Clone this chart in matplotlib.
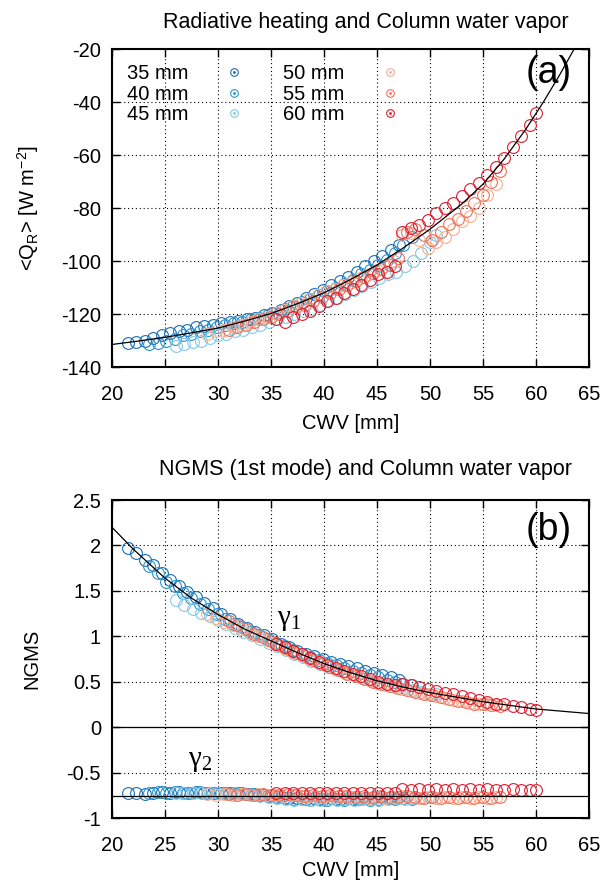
import matplotlib
matplotlib.use("Agg")
import matplotlib.pyplot as plt
from matplotlib.lines import Line2D
from matplotlib.legend_handler import HandlerTuple
from matplotlib.ticker import FuncFormatter

plt.rcParams['font.family'] = ['Liberation Sans', 'DejaVu Sans']
plt.rcParams['font.size'] = 14
plt.rcParams['axes.unicode_minus'] = False
plt.rcParams['mathtext.default'] = 'regular'

# --- data ---
labels = ["35 mm", "40 mm", "45 mm", "50 mm", "55 mm", "60 mm"]
colors = ["#1a6fb5", "#2b96cc", "#86c8e4", "#fbad90", "#f2715a", "#de1d2e"]

cwv_35 = [21.5, 22.3, 23.1, 23.9, 24.7, 25.5, 26.3, 27.1, 27.9, 28.7, 29.5, 30.3, 31.1, 31.9, 32.7, 33.5, 34.3,
          35.1, 35.9, 36.7, 37.5, 38.3, 39.1, 39.9, 40.7, 41.5, 42.3, 43.1, 43.9, 44.7, 45.5, 46.3, 47.1]
qr_35 = [-131, -130.5, -130, -129, -128, -127, -126.5, -126, -125, -124.5, -124, -123.5, -123, -122.5, -122, -121.5,
         -120.5, -119.5, -118.5, -117, -116, -114, -112.5, -111, -109, -107.5, -106, -104, -102, -100, -98, -96, -94]
g1_35 = [1.97, 1.92, 1.84, 1.78, 1.70, 1.62, 1.55, 1.49, 1.43, 1.37, 1.31, 1.25, 1.19, 1.14, 1.09, 1.05, 1.01,
         0.97, 0.92, 0.88, 0.84, 0.81, 0.78, 0.75, 0.72, 0.70, 0.67, 0.65, 0.62, 0.60, 0.57, 0.55, 0.52]
g2_35 = [-0.73, -0.72, -0.74, -0.72, -0.71, -0.72, -0.71, -0.72, -0.71, -0.72, -0.72, -0.73, -0.72, -0.73, -0.74,
         -0.74, -0.75, -0.76, -0.77, -0.78, -0.78, -0.79, -0.78, -0.79, -0.78, -0.79, -0.78, -0.79, -0.78, -0.78,
         -0.77, -0.78, -0.77]

cwv_40 = [23.5, 24.3, 25.1, 25.9, 26.7, 27.5, 28.3, 29.1, 29.9, 30.7, 31.5, 32.3, 33.1, 33.9, 34.7, 35.5, 36.3,
          37.1, 37.9, 38.7, 39.5, 40.3, 41.1, 41.9, 42.7, 43.5, 44.3, 45.1, 45.9, 46.7, 47.5, 48.3]
qr_40 = [-131.5, -131, -130, -129.5, -128, -127.5, -126.5, -126, -125, -124, -123.5, -123, -122, -121.5, -120.5,
         -119.5, -118, -117, -115.5, -114.5, -113, -111.5, -110, -108.5, -107, -105, -103.5, -101.5, -99.5, -97,
         -94, -91]
g1_40 = [1.77, 1.70, 1.60, 1.55, 1.48, 1.42, 1.36, 1.30, 1.25, 1.19, 1.14, 1.10, 1.05, 1.01, 0.97, 0.93, 0.89,
         0.85, 0.81, 0.77, 0.74, 0.71, 0.68, 0.65, 0.62, 0.60, 0.57, 0.55, 0.52, 0.50, 0.48, 0.46]
g2_40 = [-0.72, -0.71, -0.72, -0.71, -0.72, -0.72, -0.71, -0.72, -0.73, -0.72, -0.73, -0.73, -0.74, -0.75, -0.76,
         -0.77, -0.78, -0.79, -0.79, -0.80, -0.79, -0.80, -0.79, -0.80, -0.79, -0.79, -0.80, -0.79, -0.78, -0.79,
         -0.78, -0.79]

cwv_45 = [26.0, 26.8, 27.6, 28.4, 29.2, 30.0, 30.8, 31.6, 32.4, 33.2, 34.0, 34.8, 35.6, 36.4, 37.2, 38.0, 38.8,
          39.6, 40.4, 41.2, 42.0, 42.8, 43.6, 44.4, 45.2, 46.0, 46.8, 47.6, 48.4, 49.2, 50.0, 50.6]
qr_45 = [-132, -131.5, -130.5, -130, -129, -128, -127.5, -126.5, -126, -125, -124, -123, -122, -121, -120, -119,
         -118, -116.5, -115, -114, -112.5, -111, -109.5, -108, -106.5, -105, -104, -102, -100, -97, -93, -90]
g1_45 = [1.40, 1.35, 1.30, 1.26, 1.22, 1.18, 1.13, 1.09, 1.05, 1.01, 0.97, 0.93, 0.89, 0.85, 0.81, 0.77, 0.73,
         0.69, 0.66, 0.63, 0.60, 0.57, 0.54, 0.51, 0.49, 0.47, 0.45, 0.43, 0.41, 0.39, 0.37, 0.36]
g2_45 = [-0.73, -0.72, -0.73, -0.72, -0.73, -0.73, -0.74, -0.73, -0.74, -0.75, -0.76, -0.77, -0.78, -0.79, -0.80,
         -0.79, -0.80, -0.80, -0.79, -0.80, -0.79, -0.80, -0.79, -0.79, -0.80, -0.79, -0.78, -0.79, -0.78, -0.78,
         -0.77, -0.78]

cwv_50 = [29.0, 29.8, 30.6, 31.4, 32.2, 33.0, 33.8, 34.6, 35.4, 36.2, 37.0, 37.8, 38.6, 39.4, 40.2, 41.0, 41.8,
          42.6, 43.4, 44.2, 45.0, 45.8, 46.6, 47.4, 48.2, 49.0, 49.8, 50.6, 51.4, 52.2, 53.0, 53.8, 54.6, 55.4, 56.2]
qr_50 = [-127.5, -126.5, -126, -125, -124, -123, -122, -121, -119.5, -118.5, -117, -116, -114.5, -113, -111.5,
         -110.5, -109, -108, -106.5, -105, -103.5, -102, -100, -90, -89.5, -92, -95, -93, -91, -88, -85, -83, -80,
         -75, -71]
g1_50 = [1.25, 1.20, 1.16, 1.12, 1.08, 1.04, 1.00, 0.96, 0.92, 0.87, 0.83, 0.79, 0.75, 0.72, 0.68, 0.64, 0.61,
         0.58, 0.55, 0.52, 0.49, 0.46, 0.44, 0.42, 0.40, 0.38, 0.36, 0.34, 0.32, 0.30, 0.29, 0.27, 0.26, 0.25, 0.24]
g2_50 = [-0.74, -0.75, -0.74, -0.75, -0.74, -0.75, -0.74, -0.75, -0.75, -0.76, -0.75, -0.76, -0.76, -0.77, -0.76,
         -0.77, -0.76, -0.77, -0.77, -0.78, -0.77, -0.78, -0.77, -0.76, -0.77, -0.78, -0.77, -0.78, -0.77, -0.78,
         -0.77, -0.78, -0.77, -0.78, -0.77]

cwv_55 = [31.0, 31.8, 32.6, 33.4, 34.2, 35.0, 35.8, 36.6, 37.4, 38.2, 39.0, 39.8, 40.6, 41.4, 42.2, 43.0, 43.8,
          44.6, 45.4, 46.2, 47.0, 47.8, 48.6, 49.4, 50.2, 51.0, 51.8, 52.6, 53.4, 54.2, 55.0, 55.8, 56.6]
qr_55 = [-126, -125, -124, -123, -122, -121, -120, -119, -117.5, -116.5, -115, -113.5, -112, -110.5, -109, -107.5,
         -106, -104.5, -103, -101.5, -99, -89, -88, -90, -92, -89, -86, -84, -81, -78, -75, -70, -66]
g1_55 = [1.17, 1.12, 1.08, 1.03, 0.99, 0.95, 0.90, 0.86, 0.82, 0.78, 0.74, 0.70, 0.66, 0.63, 0.59, 0.56, 0.53,
         0.50, 0.47, 0.45, 0.43, 0.41, 0.39, 0.37, 0.35, 0.33, 0.31, 0.29, 0.28, 0.26, 0.25, 0.24, 0.23]
g2_55 = [-0.74, -0.75, -0.74, -0.75, -0.74, -0.75, -0.75, -0.74, -0.75, -0.76, -0.75, -0.76, -0.75, -0.76, -0.76,
         -0.77, -0.76, -0.77, -0.76, -0.77, -0.77, -0.76, -0.77, -0.78, -0.77, -0.78, -0.77, -0.78, -0.77, -0.78,
         -0.77, -0.78, -0.77]

cwv_60 = [35.5, 36.3, 37.1, 37.9, 38.7, 39.5, 40.3, 41.1, 41.9, 42.7, 43.5, 44.3, 45.1, 45.9, 46.7, 47.4, 48.2,
          49.0, 49.8, 50.6, 51.4, 52.2, 53.0, 53.8, 54.6, 55.4, 56.2, 57.0, 57.8, 58.6, 59.4, 60.0]
qr_60 = [-122, -123, -121, -120, -119, -117, -115, -114, -112, -110.5, -109, -107, -105, -104, -102, -89, -87.5,
         -86.5, -84.5, -82, -80, -78, -75.5, -73, -70.5, -67.5, -64.5, -61, -57, -53, -48.5, -44]
g1_60 = [0.91, 0.88, 0.84, 0.80, 0.76, 0.72, 0.68, 0.65, 0.62, 0.59, 0.56, 0.53, 0.50, 0.48, 0.46, 0.48, 0.46,
         0.44, 0.42, 0.40, 0.38, 0.36, 0.34, 0.32, 0.30, 0.28, 0.26, 0.25, 0.23, 0.22, 0.20, 0.19]
g2_60 = [-0.73, -0.72, -0.73, -0.72, -0.73, -0.72, -0.73, -0.72, -0.73, -0.72, -0.73, -0.72, -0.73, -0.72, -0.73,
         -0.68, -0.69, -0.68, -0.69, -0.68, -0.69, -0.68, -0.69, -0.68, -0.69, -0.68, -0.69, -0.69, -0.68, -0.69,
         -0.69, -0.69]

# fitted curves
qr_fit_cwv = [20, 22.5, 25, 27.5, 30, 32.5, 35, 37.5, 40, 42.5, 45, 47.5, 50, 53, 55, 57, 59, 60.7, 62.2, 63.6]
qr_fit = [-131.5, -130.2, -128.8, -127.1, -125.3, -122.7, -119.8, -116.1, -112, -107, -101.5, -95, -88, -78.5,
          -71, -61.5, -50.5, -40, -30, -20]
g1_fit_cwv = [20, 22, 25, 27.5, 30, 32.5, 35, 37.5, 40, 42.5, 45, 47.5, 50, 55, 60, 65]
g1_fit = [2.2, 1.96, 1.64, 1.42, 1.24, 1.08, 0.95, 0.82, 0.70, 0.60, 0.51, 0.44, 0.38, 0.28, 0.20, 0.15]
g2_fit = -0.76

all_cwv = [cwv_35, cwv_40, cwv_45, cwv_50, cwv_55, cwv_60]
all_qr = [qr_35, qr_40, qr_45, qr_50, qr_55, qr_60]
all_g1 = [g1_35, g1_40, g1_45, g1_50, g1_55, g1_60]
all_g2 = [g2_35, g2_40, g2_45, g2_50, g2_55, g2_60]


def style_axes(ax):
    ax.set_xlim(20, 65)
    ax.set_xticks(range(20, 66, 5))
    ax.tick_params(direction='in', length=6, width=1, top=True, right=True, labelsize=14.5)
    ax.tick_params(axis='x', pad=13)
    ax.tick_params(axis='y', pad=8)
    ax.grid(True, color='black', linestyle=(0, (1, 2.5)), linewidth=0.8)
    for sp in ax.spines.values():
        sp.set_linewidth(1.5)


fig = plt.figure(figsize=(6.07, 8.85), dpi=100)

# --- (a) radiative heating ---
ax1 = fig.add_axes([0.1845, 0.5853, 0.7858, 0.3593])
for x, y, c in zip(all_cwv, all_qr, colors):
    ax1.plot(x, y, ls='none', marker='o', ms=8.5, mfc='none', mec=c, mew=0.8)
ax1.plot(qr_fit_cwv, qr_fit, color='black', lw=0.9)
style_axes(ax1)
ax1.set_ylim(-140, -20)
ax1.set_yticks(range(-140, -19, 20))
ax1.set_xlabel("CWV [mm]", labelpad=7, fontsize=14.5)
ax1.set_ylabel(r"<Q$_R$> [W m$^{-2}$]", fontsize=14.5)
ax1.yaxis.set_label_coords(-0.148, 0.5)
ax1.set_title("Radiative heating and Column water vapor", fontsize=15.5, pad=15, x=0.532)
ax1.text(0.915, 0.925, "(a)", transform=ax1.transAxes, fontsize=27, ha='center', va='center')

handles = [(Line2D([], [], ls='none', marker='o', ms=5.5, mfc='none', mec=c, mew=0.8),
            Line2D([], [], ls='none', marker='o', ms=1, color=c)) for c in colors]
ax1.legend(handles, labels, ncol=2, loc='upper left', bbox_to_anchor=(0.031, 0.953),
           markerfirst=False, frameon=False, handlelength=2.5, handletextpad=1.0,
           columnspacing=1.2, labelspacing=0.08, borderpad=0, borderaxespad=0, fontsize=14.5,
           handler_map={tuple: HandlerTuple(ndivide=1)})

# --- (b) NGMS ---
ax2 = fig.add_axes([0.1845, 0.0757, 0.7858, 0.3593])
for x, y, c in zip(all_cwv, all_g1, colors):
    ax2.plot(x, y, ls='none', marker='o', ms=8.5, mfc='none', mec=c, mew=0.8)
for x, y, c in zip(all_cwv, all_g2, colors):
    ax2.plot(x, y, ls='none', marker='o', ms=8.5, mfc='none', mec=c, mew=0.8)
ax2.plot(g1_fit_cwv, g1_fit, color='black', lw=0.9)
ax2.axhline(g2_fit, color='black', lw=0.9)
ax2.axhline(0, color='black', lw=0.9)
style_axes(ax2)
ax2.set_ylim(-1, 2.5)
ax2.set_yticks([-1, -0.5, 0, 0.5, 1, 1.5, 2, 2.5])
ax2.yaxis.set_major_formatter(FuncFormatter(lambda v, p: f"{v:g}"))
ax2.set_xlabel("CWV [mm]", labelpad=4, fontsize=14.5)
ax2.set_ylabel("NGMS", fontsize=14.5)
ax2.yaxis.set_label_coords(-0.148, 0.5)
ax2.set_title("NGMS (1st mode) and Column water vapor", fontsize=15.5, pad=18, x=0.532)
ax2.text(0.915, 0.905, "(b)", transform=ax2.transAxes, fontsize=27, ha='center', va='center')
ax2.text(35.6, 1.18, r"$\gamma_1$", fontsize=21, family='Liberation Serif', va='center')
ax2.text(27.2, -0.37, r"$\gamma_2$", fontsize=21, family='Liberation Serif', va='center')

fig.savefig("out.png", dpi=100)
